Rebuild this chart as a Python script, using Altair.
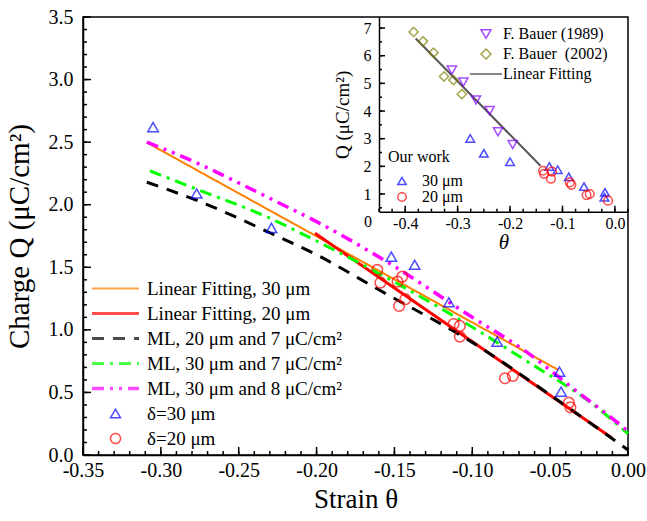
import altair as alt
import numpy as np
import pandas as pd

FONT = "Liberation Serif"

# ---------------- main panel: charge vs. strain ----------------
FIT30_X = [-0.309, -0.0447]
FIT30_Y = [2.497, 0.679]
FIT20_X = [-0.201, -0.0105]
FIT20_Y = [1.772, 0.138]

ML20_7_X = [-0.309, -0.274, -0.229, -0.200, -0.160, -0.100, -0.050, 0.000]
ML20_7_Y = [2.18, 2.02, 1.77, 1.60, 1.32, 0.90, 0.48, 0.04]
ML30_7_X = [-0.307, -0.273, -0.235, -0.200, -0.120, -0.065, -0.022, 0.000]
ML30_7_Y = [2.27, 2.105, 1.92, 1.71, 1.17, 0.75, 0.40, 0.17]
ML30_8_X = [-0.309, -0.278, -0.251, -0.225, -0.200, -0.153, -0.100, -0.067, -0.032, -0.014, 0.000]
ML30_8_Y = [2.50, 2.34, 2.18, 2.02, 1.865, 1.53, 1.10, 0.84, 0.50, 0.33, 0.19]

D30_X = [-0.305, -0.277, -0.229, -0.152, -0.137, -0.115, -0.084, -0.044, -0.043]
D30_Y = [2.62, 2.09, 1.815, 1.585, 1.52, 1.22, 0.906, 0.666, 0.506]
D20_X = [-0.161, -0.159, -0.148, -0.145, -0.143, -0.147, -0.112, -0.108, -0.108,
         -0.079, -0.074, -0.038, -0.037]
D20_Y = [1.479, 1.377, 1.385, 1.425, 1.245, 1.191, 1.047, 1.031, 0.946,
         0.613, 0.632, 0.418, 0.381]

SERIES = ["Linear Fitting, 30 μm", "Linear Fitting, 20 μm",
          "ML, 20 μm and 7 μC/cm²", "ML, 30 μm and 7 μC/cm²",
          "ML, 30 μm and 8 μC/cm²", "δ=30 μm", "δ=20 μm"]
COLORS = ["#ff8000", "#ff0000", "#000000", "#00ff00", "#ff00ff", "#0000ff", "#ff0000"]
DASHES = [[1, 0], [1, 0], [12, 9], [12, 6, 3, 6], [12, 6, 3, 6, 3, 6], [1, 0], [1, 0]]
WIDTHS = [2, 3, 3, 3, 3.5, 1.5, 1.5]
LINE_SYMBOL = "M-4.7,0H4.7"
SHAPES = [LINE_SYMBOL] * 5 + ["triangle-up", "circle"]

X_DOMAIN = [-0.35, 0.0]
Y_DOMAIN = [0.0, 3.5]
X_MAJOR = [-0.35, -0.30, -0.25, -0.20, -0.15, -0.10, -0.05, 0.0]
Y_MAJOR = [0.0, 0.5, 1.0, 1.5, 2.0, 2.5, 3.0, 3.5]
X_MINOR = np.round(np.arange(-0.35, 0.0001, 0.01), 2).tolist()
Y_MINOR = np.round(np.arange(0.0, 3.5001, 0.1), 2).tolist()

# ---------------- inset: comparison with literature ----------------
BAUER89_X = [-0.311, -0.289, -0.265, -0.239, -0.223, -0.195]
BAUER89_Y = [5.48, 5.05, 4.40, 4.02, 3.25, 2.79]
BAUER02_X = [-0.384, -0.366, -0.346, -0.326, -0.308, -0.292]
BAUER02_Y = [6.86, 6.52, 6.11, 5.25, 5.12, 4.61]
INSET_FIT_X = [-0.38, -0.142]
INSET_FIT_Y = [6.62, 2.02]
OUR30_X = [-0.276, -0.250, -0.200, -0.125, -0.109, -0.088, -0.059, -0.019, -0.020]
OUR30_Y = [3.01, 2.47, 2.17, 1.99, 1.88, 1.62, 1.27, 1.06, 0.88]
OUR20_X = [-0.137, -0.135, -0.120, -0.122, -0.086, -0.083, -0.054, -0.048, -0.013]
OUR20_Y = [1.84, 1.73, 1.81, 1.55, 1.42, 1.33, 0.96, 1.00, 0.76]

LIT = ["F. Bauer (1989)", "F. Bauer\u00a0 (2002)", "Linear Fitting"]
LIT_COLORS = ["#8000ff", "#808000", "#555555"]
LIT_SHAPES = ["triangle-down", "diamond", "M-3.2,0H3.2"]
LIT_DASHES = [[1, 0], [1, 0], [1, 0]]
LIT_WIDTHS = [1.5, 1.5, 2]
OUR = ["30 μm", "20 μm"]
OUR_COLORS = ["#0000ff", "#ff0000"]
OUR_SHAPES = ["triangle-up", "circle"]

IX_DOMAIN = [-0.45, 0.025]
IY_DOMAIN = [0.36, 7.4]
IX_MAJOR = [-0.4, -0.3, -0.2, -0.1, 0.0]
IY_MAJOR = [1, 2, 3, 4, 5, 6, 7]
IX_MINOR = np.round(np.arange(-0.45, 0.0251, 0.025), 3).tolist()
IY_MINOR = np.round(np.arange(0.5, 7.4, 0.5), 2).tolist()

W, H = 545, 438
INSET_LEFT, INSET_BOTTOM = 296, 194.7
INSET_X_OFFSET = INSET_BOTTOM - H   # lifts the inset x axis into the panel
INSET_Y_OFFSET = -INSET_LEFT        # shifts the inset y axis into the panel
INSET_W, INSET_H = W - INSET_LEFT, INSET_BOTTOM


def frame(field, groups):
    rows = []
    for name, xs, ys in groups:
        rows += [{field: name, "x": a, "y": b} for a, b in zip(xs, ys)]
    return pd.DataFrame(rows)


def scale_x_main():
    return alt.Scale(domain=X_DOMAIN, nice=False, zero=False)


def scale_y_main():
    return alt.Scale(domain=Y_DOMAIN, nice=False, zero=False)


def scale_x_inset():
    return alt.Scale(domain=IX_DOMAIN, range=[INSET_LEFT, W], nice=False, zero=False)


def scale_y_inset():
    return alt.Scale(domain=IY_DOMAIN, range=[INSET_BOTTOM, 0], nice=False, zero=False)


def tick_layer(groups, vertical, dom_x, dom_y, w_px, h_px, sx, sy):
    """Inward ticks as short two-point line segments.

    groups: list of (tick values, tick length in px).  vertical=True draws ticks
    standing on the lower edge; otherwise ticks sticking out of the left edge."""
    rows, tid = [], 0
    for values, length in groups:
        for v in values:
            if vertical:
                step = (dom_y[1] - dom_y[0]) * length / h_px
                pts = [(v, dom_y[0]), (v, dom_y[0] + step)]
            else:
                step = (dom_x[1] - dom_x[0]) * length / w_px
                pts = [(dom_x[0], v), (dom_x[0] + step, v)]
            for k, (px, py) in enumerate(pts):
                rows.append({"tid": tid, "k": k, "px": px, "py": py})
            tid += 1
    df = pd.DataFrame(rows)
    return alt.Chart(df).mark_line(color="black", strokeWidth=1.5, strokeCap="butt").encode(
        x=alt.X("px:Q", scale=sx, axis=None),
        y=alt.Y("py:Q", scale=sy, axis=None),
        detail="tid:N",
        order="k:Q",
    )


HYPHEN = "replace(datum.label, '\u2212', '-')"

main_legend = alt.Legend(orient="none", legendX=23, legendY=262, title=None,
                         labelFontSize=19, labelFont=FONT, labelColor="black", labelLimit=0,
                         symbolSize=100, labelOffset=22, rowPadding=5, padding=0)


def series_enc(legend, shape=False):
    enc = dict(
        color=alt.Color("series:N", scale=alt.Scale(domain=SERIES, range=COLORS), legend=legend),
        strokeDash=alt.StrokeDash("series:N", scale=alt.Scale(domain=SERIES, range=DASHES), legend=legend),
        strokeWidth=alt.StrokeWidth("series:N", scale=alt.Scale(type="ordinal", domain=SERIES, range=WIDTHS),
                                    legend=legend),
    )
    if shape:
        enc["shape"] = alt.Shape("series:N", scale=alt.Scale(domain=SERIES, range=SHAPES), legend=legend)
    return enc


fits = frame("series", [(SERIES[0], FIT30_X, FIT30_Y), (SERIES[1], FIT20_X, FIT20_Y)])
ml = frame("series", [(SERIES[2], ML20_7_X, ML20_7_Y), (SERIES[3], ML30_7_X, ML30_7_Y),
                      (SERIES[4], ML30_8_X, ML30_8_Y)])
pts = frame("series", [(SERIES[5], D30_X, D30_Y), (SERIES[6], D20_X, D20_Y)])

# linear fits; these carry the labelled axes of the main panel
fit_layer = alt.Chart(fits).mark_line(strokeCap="butt").encode(
    x=alt.X("x:Q", scale=scale_x_main(), axis=alt.Axis(
        orient="bottom", values=X_MAJOR, format=".2f", labelExpr=HYPHEN, ticks=False,
        grid=False, domain=True, domainColor="black", domainWidth=1.5, labelFontSize=20,
        labelPadding=5, labelFlush=False, labelOverlap=False, title="Strain θ",
        titleFontSize=27, titlePadding=6)),
    y=alt.Y("y:Q", scale=scale_y_main(), axis=alt.Axis(
        orient="left", values=Y_MAJOR, format=".1f", ticks=False, grid=False, domain=True,
        domainColor="black", domainWidth=1.5, labelFontSize=20, labelPadding=10,
        labelFlush=False, labelOverlap=False, title="Charge Q (μC/cm²)",
        titleFontSize=29, titlePadding=14)),
    **series_enc(None),
)

ml_layer = alt.Chart(ml).mark_line(strokeCap="butt", interpolate="monotone").encode(
    x=alt.X("x:Q", scale=scale_x_main(), axis=None),
    y=alt.Y("y:Q", scale=scale_y_main(), axis=None),
    **series_enc(None),
)

pt_layer = alt.Chart(pts).mark_point(filled=False, size=110).encode(
    x=alt.X("x:Q", scale=scale_x_main(), axis=None),
    y=alt.Y("y:Q", scale=scale_y_main(), axis=None),
    **series_enc(main_legend, shape=True),
)

main_ticks = [
    tick_layer([(X_MINOR, 4), (X_MAJOR, 8)], True, X_DOMAIN, Y_DOMAIN, W, H,
               scale_x_main(), scale_y_main()),
    tick_layer([(Y_MINOR, 4), (Y_MAJOR, 8)], False, X_DOMAIN, Y_DOMAIN, W, H,
               scale_x_main(), scale_y_main()),
]

# ---------------- inset layers ----------------
ifit = pd.DataFrame({"x": INSET_FIT_X, "y": INSET_FIT_Y})
lit = frame("src", [(LIT[0], BAUER89_X, BAUER89_Y), (LIT[1], BAUER02_X, BAUER02_Y)])
our = frame("grp", [(OUR[0], OUR30_X, OUR30_Y), (OUR[1], OUR20_X, OUR20_Y)])

inset_fit_layer = alt.Chart(ifit).mark_line(color="#555555", strokeWidth=2).encode(
    x=alt.X("x:Q", scale=scale_x_inset(), axis=alt.Axis(
        orient="bottom", offset=INSET_X_OFFSET, values=IX_MAJOR, format=".1f",
        labelExpr=HYPHEN, ticks=False, grid=False, domain=True, domainColor="black",
        domainWidth=1.5, labelFontSize=16, labelPadding=4, labelFlush=False,
        labelOverlap=False, title="θ", titleFontSize=21, titleFontStyle="italic",
        titlePadding=0)),
    y=alt.Y("y:Q", scale=scale_y_inset(), axis=alt.Axis(
        orient="left", offset=INSET_Y_OFFSET, values=IY_MAJOR, format="d", ticks=False,
        grid=False, domain=True, domainColor="black", domainWidth=1.5, labelFontSize=16,
        labelPadding=8, labelFlush=False, labelOverlap=False, title="Q (μC/cm²)",
        titleFontSize=19, titlePadding=11)),
)

lit_legend = alt.Legend(orient="none", legendX=395, legendY=9, title=None,
                        labelFontSize=16, labelFont=FONT, labelColor="black", labelLimit=0,
                        symbolSize=100, labelOffset=9, rowPadding=4, padding=0)
lit_layer = alt.Chart(lit).mark_point(filled=False, size=85).encode(
    x=alt.X("x:Q", scale=scale_x_inset(), axis=None),
    y=alt.Y("y:Q", scale=scale_y_inset(), axis=None),
    color=alt.Color("src:N", scale=alt.Scale(domain=LIT, range=LIT_COLORS), legend=lit_legend),
    shape=alt.Shape("src:N", scale=alt.Scale(domain=LIT, range=LIT_SHAPES), legend=lit_legend),
    strokeDash=alt.StrokeDash("src:N", scale=alt.Scale(domain=LIT, range=LIT_DASHES), legend=lit_legend),
    strokeWidth=alt.StrokeWidth("src:N", scale=alt.Scale(type="ordinal", domain=LIT, range=LIT_WIDTHS),
                                legend=lit_legend),
)

our_legend = alt.Legend(orient="none", legendX=305, legendY=132, title="Our work",
                        titleFont=FONT, titleFontSize=16, titleFontWeight="normal",
                        titleColor="black", titlePadding=8, labelFontSize=16, labelFont=FONT,
                        labelColor="black", labelLimit=0, symbolSize=70, symbolOffset=6,
                        labelOffset=12, rowPadding=0, padding=0, symbolStrokeWidth=1.5)
our_layer = alt.Chart(our).mark_point(filled=False, size=75, strokeWidth=1.5).encode(
    x=alt.X("x:Q", scale=scale_x_inset(), axis=None),
    y=alt.Y("y:Q", scale=scale_y_inset(), axis=None),
    color=alt.Color("grp:N", scale=alt.Scale(domain=OUR, range=OUR_COLORS), legend=our_legend),
    shape=alt.Shape("grp:N", scale=alt.Scale(domain=OUR, range=OUR_SHAPES), legend=our_legend),
)

inset_ticks = [
    tick_layer([(IX_MINOR, 3), (IX_MAJOR, 6)], True, IX_DOMAIN, IY_DOMAIN, INSET_W, INSET_H,
               scale_x_inset(), scale_y_inset()),
    tick_layer([(IY_MINOR, 3), (IY_MAJOR, 6)], False, IX_DOMAIN, IY_DOMAIN, INSET_W, INSET_H,
               scale_x_inset(), scale_y_inset()),
]

# the zero label of the inset sits below its x axis
zero_layer = alt.Chart(pd.DataFrame({"x": [IX_DOMAIN[0]], "y": [0.0], "t": ["0"]})).mark_text(
    align="right", baseline="middle", dx=-7, font=FONT, fontSize=16, color="black"
).encode(
    x=alt.X("x:Q", scale=scale_x_inset(), axis=None),
    y=alt.Y("y:Q", scale=scale_y_inset(), axis=None),
    text="t:N",
)

chart = alt.layer(
    fit_layer, ml_layer, pt_layer, *main_ticks,
    inset_fit_layer, lit_layer, our_layer, *inset_ticks, zero_layer,
).resolve_scale(
    x="independent", y="independent", color="independent", shape="independent",
    strokeDash="independent", strokeWidth="independent",
).properties(
    width=W, height=H,
    autosize=alt.AutoSizeParams(type="none"),
    padding={"left": 83, "top": 17, "right": 19, "bottom": 66},
).configure_view(
    stroke="black", strokeWidth=1.5,
).configure_axis(
    labelFont=FONT, titleFont=FONT, labelColor="black", titleColor="black",
    titleFontWeight="normal",
).configure_legend(
    labelFont=FONT, titleFont=FONT,
)

chart.save("out.html", embed_options={"renderer": "svg", "actions": False})
